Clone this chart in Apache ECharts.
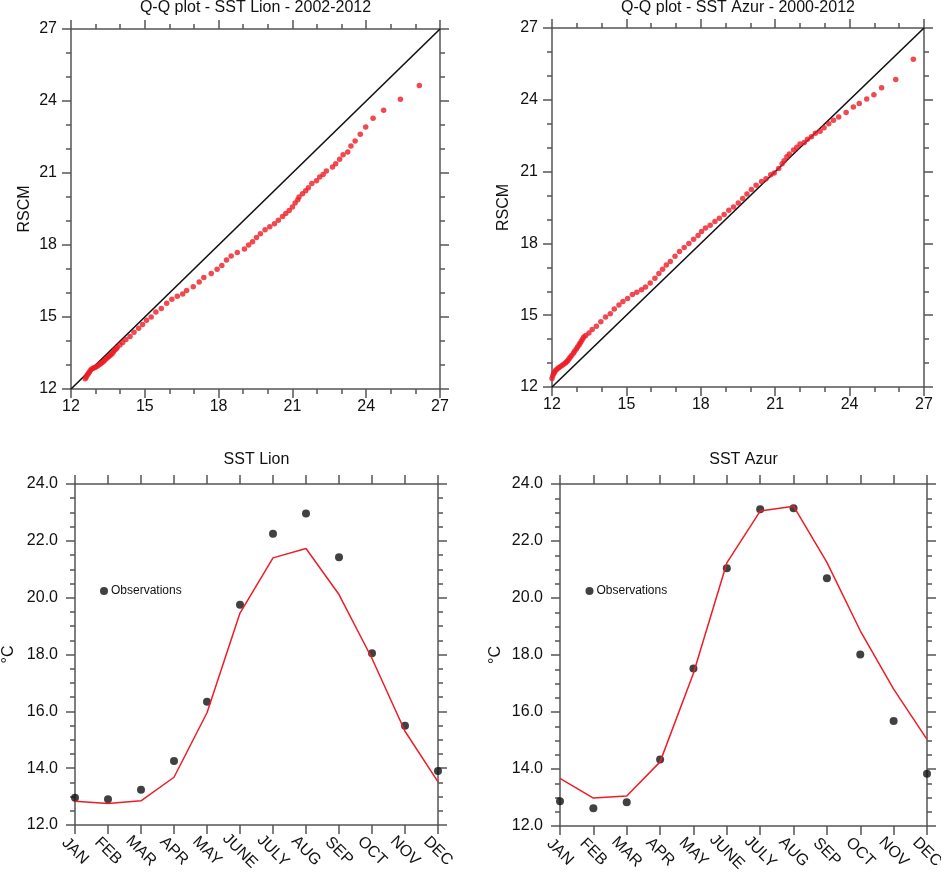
<!DOCTYPE html>
<html>
<head>
<meta charset="utf-8">
<script src="https://cdn.jsdelivr.net/npm/echarts@6/dist/echarts.min.js"></script>
<style>
html,body{margin:0;padding:0;background:#fff;}
#chart{width:941px;height:873px;}
</style>
</head>
<body>
<div id="chart"></div>
<script>
// ---------- DATA ----------
const qqTicks = [12, 15, 18, 21, 24, 27];
const oneToOne = [[12, 12], [27, 27]];

const lionQQ = [
 [12.58,12.43],[12.62,12.50],[12.66,12.58],[12.70,12.64],[12.74,12.70],[12.78,12.76],[12.83,12.82],
 [12.89,12.86],[12.95,12.89],[13.01,12.92],[13.07,12.96],[13.13,13.00],[13.19,13.04],[13.25,13.09],
 [13.31,13.14],[13.37,13.20],[13.43,13.26],[13.49,13.31],[13.55,13.36],[13.61,13.42],[13.67,13.47],
 [13.72,13.54],[13.77,13.61],[13.83,13.67],[13.88,13.73],[13.99,13.83],[14.10,13.94],[14.23,14.06],
 [14.40,14.19],[14.56,14.36],[14.75,14.53],[14.91,14.69],[15.07,14.86],[15.26,15.00],[15.45,15.21],
 [15.67,15.35],[15.89,15.57],[16.10,15.74],[16.32,15.86],[16.54,15.96],[16.70,16.10],[16.97,16.26],
 [17.21,16.46],[17.40,16.65],[17.70,16.81],[17.94,16.99],[18.13,17.15],[18.32,17.38],[18.51,17.54],
 [18.76,17.69],[19.05,17.83],[19.22,18.00],[19.38,18.14],[19.54,18.31],[19.70,18.47],[19.89,18.64],
 [20.08,18.76],[20.27,18.89],[20.43,19.03],[20.60,19.19],[20.73,19.31],[20.87,19.44],[21.00,19.58],
 [21.11,19.75],[21.22,19.89],[21.27,20.00],[21.41,20.14],[21.54,20.26],[21.65,20.39],[21.79,20.56],
 [21.98,20.68],[22.11,20.83],[22.25,20.94],[22.38,21.08],[22.63,21.25],[22.76,21.39],[22.92,21.57],
 [23.06,21.76],[23.25,21.88],[23.38,22.13],[23.55,22.33],[23.76,22.61],[23.98,22.92],[24.28,23.28],
 [24.71,23.61],[25.39,24.07],[26.16,24.65]
];

const azurQQ = [
 [12.00,12.35],[12.03,12.47],[12.07,12.56],[12.11,12.63],[12.15,12.70],[12.21,12.75],[12.27,12.80],
 [12.33,12.85],[12.40,12.90],[12.47,12.95],[12.54,13.00],[12.59,13.05],[12.64,13.11],[12.69,13.18],
 [12.74,13.25],[12.80,13.33],[12.87,13.42],[12.92,13.50],[12.98,13.59],[13.03,13.67],[13.09,13.76],
 [13.13,13.83],[13.18,13.91],[13.23,14.00],[13.28,14.09],[13.36,14.15],[13.49,14.26],[13.62,14.40],
 [13.79,14.54],[13.97,14.73],[14.16,14.93],[14.35,15.06],[14.51,15.26],[14.70,15.43],[14.86,15.57],
 [15.05,15.70],[15.24,15.86],[15.42,15.96],[15.61,16.06],[15.77,16.18],[15.96,16.35],[16.15,16.54],
 [16.31,16.74],[16.46,16.92],[16.61,17.10],[16.77,17.24],[16.96,17.46],[17.14,17.66],[17.33,17.83],
 [17.52,18.00],[17.71,18.17],[17.89,18.33],[18.03,18.50],[18.19,18.64],[18.38,18.76],[18.57,18.92],
 [18.75,19.05],[18.94,19.21],[19.13,19.39],[19.32,19.52],[19.51,19.69],[19.69,19.88],[19.86,20.06],
 [20.04,20.25],[20.23,20.43],[20.45,20.59],[20.63,20.70],[20.82,20.87],[20.96,20.94],[21.14,21.13],
 [21.28,21.33],[21.36,21.45],[21.47,21.62],[21.57,21.74],[21.74,21.90],[21.87,22.02],[22.00,22.15],
 [22.17,22.22],[22.30,22.35],[22.46,22.46],[22.62,22.60],[22.81,22.69],[22.97,22.83],[23.16,23.00],
 [23.35,23.15],[23.56,23.28],[23.86,23.47],[24.15,23.70],[24.39,23.85],[24.69,24.03],[24.98,24.21],
 [25.29,24.50],[25.86,24.85],[26.57,25.69]
];

const months = ['JAN','FEB','MAR','APR','MAY','JUNE','JULY','AUG','SEP','OCT','NOV','DEC'];
const sstTicks = [12.0, 14.0, 16.0, 18.0, 20.0, 22.0, 24.0];

const lionObs   = [12.96, 12.91, 13.24, 14.25, 16.34, 19.75, 22.25, 22.96, 21.42, 18.04, 15.49, 13.90];
const lionModel = [12.84, 12.76, 12.85, 13.68, 15.95, 19.46, 21.40, 21.73, 20.11, 17.86, 15.30, 13.52];
const azurObs   = [12.87, 12.62, 12.83, 14.33, 17.53, 21.04, 23.11, 23.15, 20.69, 18.02, 15.68, 13.83];
const azurModel = [13.67, 12.98, 13.05, 14.25, 17.36, 21.23, 23.05, 23.22, 21.25, 18.85, 16.80, 15.04];

// ---------- STYLE ----------
const FONT = 'Liberation Sans, Arial, Helvetica, sans-serif';
const AX = '#555';
const RED = '#ee1c26';
const lineStyle = {color: AX, width: 1.5};

function valAxis(grid, pos, ticks, minorSplit, showLabel, fmt, extra) {
  const o = {
    type: 'value', gridIndex: grid, position: pos,
    min: ticks[0], max: ticks[ticks.length - 1], interval: ticks[1] - ticks[0],
    axisLine: {show: true, onZero: false, lineStyle: lineStyle},
    axisTick: {show: true, inside: false, length: 9, lineStyle: lineStyle},
    minorTick: {show: true, splitNumber: minorSplit, length: 5, lineStyle: lineStyle},
    splitLine: {show: false},
    axisLabel: {show: showLabel, color: '#111', fontSize: 16, fontFamily: FONT,
      formatter: fmt || (v => String(v))}
  };
  return Object.assign(o, extra || {});
}
function catAxis(grid, pos, showLabel) {
  return {
    type: 'category', gridIndex: grid, position: pos, data: months, boundaryGap: false,
    axisLine: {show: true, onZero: false, lineStyle: lineStyle},
    axisTick: {show: true, inside: false, length: 9, interval: 0, lineStyle: lineStyle},
    splitLine: {show: false},
    axisLabel: {show: showLabel, interval: 0, rotate: -45, align: 'center', verticalAlign: 'middle',
      margin: 26, color: '#111', fontSize: 16, fontFamily: FONT}
  };
}
const fmt1 = v => v.toFixed(1);
const yName = (name, gap) => ({name: name, nameLocation: 'middle', nameGap: gap, nameRotate: 90,
  nameTextStyle: {color: '#111', fontSize: 16, fontFamily: FONT}});
const gridBase = {containLabel: false, outerBoundsMode: 'none'};

const chart = echarts.init(document.getElementById('chart'), null, {renderer: 'canvas'});
chart.setOption({
  animation: false,
  backgroundColor: '#fff',
  textStyle: {fontFamily: FONT},
  title: [
    {text: 'Q-Q plot - SST Lion - 2002-2012', left: 255.5, top: 0, textAlign: 'center', padding: 0,
      textStyle: {fontSize: 16, fontWeight: 'normal', color: '#111', fontFamily: FONT}},
    {text: 'Q-Q plot - SST Azur - 2000-2012', left: 738, top: 0, textAlign: 'center', padding: 0,
      textStyle: {fontSize: 16, fontWeight: 'normal', color: '#111', fontFamily: FONT}},
    {text: 'SST Lion', left: 256.5, top: 452, textAlign: 'center', padding: 0,
      textStyle: {fontSize: 16, fontWeight: 'normal', color: '#111', fontFamily: FONT}},
    {text: 'SST Azur', left: 743.5, top: 452, textAlign: 'center', padding: 0,
      textStyle: {fontSize: 16, fontWeight: 'normal', color: '#111', fontFamily: FONT}}
  ],
  legend: [
    {data: ['Observations'], left: 100, top: 585, padding: 0, icon: 'circle', itemWidth: 8, itemHeight: 8,
      textStyle: {fontSize: 12, color: '#111', fontFamily: FONT, padding: [0,0,0,-2]}},
    {data: ['Observations'], left: 585.5, top: 585, padding: 0, icon: 'circle', itemWidth: 8, itemHeight: 8,
      textStyle: {fontSize: 12, color: '#111', fontFamily: FONT, padding: [0,0,0,-2]}}
  ],
  grid: [
    Object.assign({left: 71, top: 29, width: 369, height: 360}, gridBase),
    Object.assign({left: 552, top: 28, width: 372, height: 359}, gridBase),
    Object.assign({left: 75, top: 484, width: 363, height: 341}, gridBase),
    Object.assign({left: 560, top: 484, width: 367, height: 342}, gridBase)
  ],
  xAxis: [
    valAxis(0, 'bottom', qqTicks, 3, true, null, {axisLabel: {show: true, margin: 10, color: '#111', fontSize: 16, fontFamily: FONT}}),
    valAxis(0, 'top', qqTicks, 3, false),
    valAxis(1, 'bottom', qqTicks, 3, true, null, {axisLabel: {show: true, margin: 10, color: '#111', fontSize: 16, fontFamily: FONT}}),
    valAxis(1, 'top', qqTicks, 3, false),
    catAxis(2, 'bottom', true),
    catAxis(2, 'top', false),
    catAxis(3, 'bottom', true),
    catAxis(3, 'top', false)
  ],
  yAxis: [
    valAxis(0, 'left', qqTicks, 3, true, null, Object.assign({}, yName('RSCM', 38), {axisLabel: {show: true, margin: 14, color: '#111', fontSize: 16, fontFamily: FONT}})),
    valAxis(0, 'right', qqTicks, 3, false),
    valAxis(1, 'left', qqTicks, 3, true, null, Object.assign({}, yName('RSCM', 40), {axisLabel: {show: true, margin: 14, color: '#111', fontSize: 16, fontFamily: FONT}})),
    valAxis(1, 'right', qqTicks, 3, false),
    valAxis(2, 'left', sstTicks, 4, true, fmt1, Object.assign({}, yName('°C', 58), {axisLabel: {show: true, margin: 17, color: '#111', fontSize: 16, fontFamily: FONT, formatter: fmt1}})),
    valAxis(2, 'right', sstTicks, 4, false),
    valAxis(3, 'left', sstTicks, 4, true, fmt1, Object.assign({}, yName('°C', 56), {axisLabel: {show: true, margin: 17, color: '#111', fontSize: 16, fontFamily: FONT, formatter: fmt1}})),
    valAxis(3, 'right', sstTicks, 4, false)
  ],
  series: [
    {name: '1:1 Lion', type: 'line', xAxisIndex: 0, yAxisIndex: 0, data: oneToOne, symbol: 'none',
      lineStyle: {color: '#111', width: 1.6}, z: 2},
    {name: 'QQ Lion', type: 'scatter', xAxisIndex: 0, yAxisIndex: 0, data: lionQQ, symbolSize: 5.5,
      itemStyle: {color: RED}, z: 3},
    {name: '1:1 Azur', type: 'line', xAxisIndex: 2, yAxisIndex: 2, data: oneToOne, symbol: 'none',
      lineStyle: {color: '#111', width: 1.6}, z: 2},
    {name: 'QQ Azur', type: 'scatter', xAxisIndex: 2, yAxisIndex: 2, data: azurQQ, symbolSize: 5.5,
      itemStyle: {color: RED}, z: 3},
    {name: 'Model Lion', type: 'line', xAxisIndex: 4, yAxisIndex: 4, data: lionModel, symbol: 'none',
      lineStyle: {color: RED, width: 1.5}},
    {name: 'Observations', type: 'scatter', xAxisIndex: 4, yAxisIndex: 4, data: lionObs, symbolSize: 8,
      itemStyle: {color: '#111'}, clip: false},
    {name: 'Model Azur', type: 'line', xAxisIndex: 6, yAxisIndex: 6, data: azurModel, symbol: 'none',
      lineStyle: {color: RED, width: 1.5}},
    {name: 'Observations', type: 'scatter', xAxisIndex: 6, yAxisIndex: 6, data: azurObs, symbolSize: 8,
      itemStyle: {color: '#111'}, clip: false}
  ]
});
</script>
</body>
</html>
